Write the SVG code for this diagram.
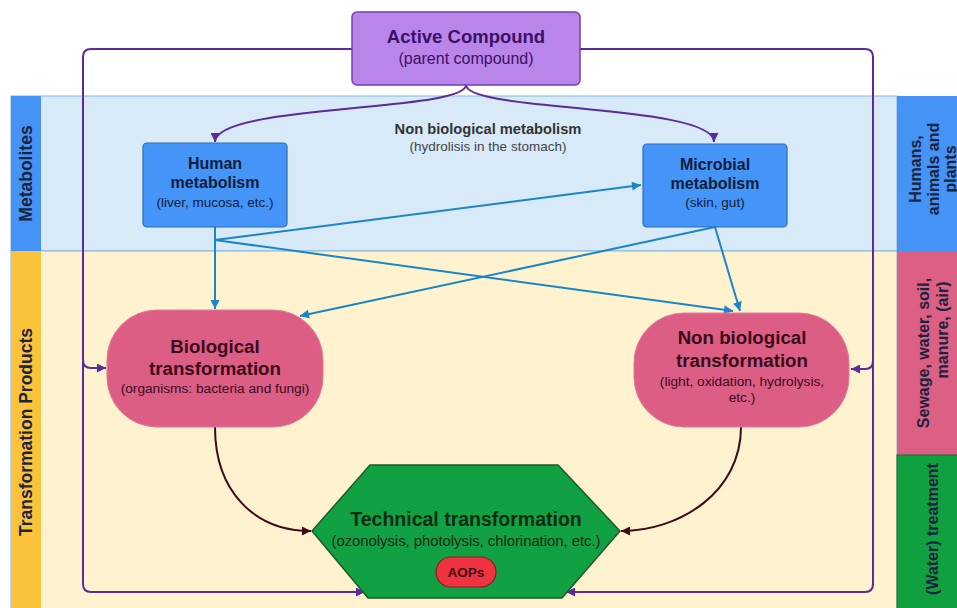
<svg xmlns="http://www.w3.org/2000/svg" width="957" height="608" viewBox="0 0 957 608">
<style>
text{font-family:"Liberation Sans",Arial,sans-serif;}
.b{font-weight:bold;}
.lane{font-weight:bold;font-size:17.5px;fill:#1a2340;}
.side{font-weight:bold;font-size:16px;fill:#1a2340;}
.mt{font-weight:bold;font-size:16px;fill:#0e1d3a;}
.ms{font-size:13.5px;fill:#0e1d3a;}
.pt{font-weight:bold;font-size:18.7px;fill:#3a0b1b;}
.ps{font-size:13.7px;fill:#3a0b1b;}
.pur{fill:none;stroke:#5b2a9b;stroke-width:2;}
.blu{fill:none;stroke:#1a86c8;stroke-width:2;}
.drk{fill:none;stroke:#3d0a1a;stroke-width:2;}
</style>
<defs>
<marker id="mp" viewBox="0 0 10 10" refX="10" refY="5" markerWidth="11" markerHeight="9" orient="auto" markerUnits="userSpaceOnUse"><path d="M0,0 L10,5 L0,10 z" fill="#5b2a9b"/></marker>
<marker id="mb" viewBox="0 0 10 10" refX="10" refY="5" markerWidth="12" markerHeight="9" orient="auto" markerUnits="userSpaceOnUse"><path d="M0,0 L10,5 L0,10 z" fill="#1a86c8"/></marker>
<marker id="md" viewBox="0 0 10 10" refX="10" refY="5" markerWidth="11" markerHeight="9" orient="auto" markerUnits="userSpaceOnUse"><path d="M0,0 L10,5 L0,10 z" fill="#3d0a1a"/></marker>
</defs>
<rect width="957" height="608" fill="#ffffff"/>
<g id="lanes">
<rect x="11" y="96" width="886" height="155" fill="#d8eaf8" stroke="#86b3e0" stroke-width="1"/>
<rect x="11" y="251" width="886" height="360" fill="#fff3cf" stroke="#86b3e0" stroke-width="1"/>
<rect x="11" y="96" width="30" height="155" fill="#4594f5"/>
<rect x="11" y="251" width="30" height="360" fill="#fbc33a"/>
<rect x="897" y="96" width="62" height="155" fill="#4594f5"/>
<rect x="897" y="251" width="62" height="204" fill="#dc5f84"/>
<rect x="897" y="455" width="62" height="156" fill="#10a040" stroke="#1c6a30" stroke-width="1"/>
<text class="lane" transform="translate(32,173.5) rotate(-90)" text-anchor="middle">Metabolites</text>
<text class="lane" transform="translate(32,432) rotate(-90)" text-anchor="middle">Transformation Products</text>
<text class="side" transform="translate(921,169) rotate(-90)" text-anchor="middle"><tspan x="0" y="0">Humans,</tspan><tspan x="0" y="18">animals and</tspan><tspan x="0" y="35">plants</tspan></text>
<text class="side" transform="translate(929,353) rotate(-90)" text-anchor="middle"><tspan x="0" y="0">Sewage, water, soil,</tspan><tspan x="23" y="19">manure, (air)</tspan></text>
<text class="side" transform="translate(938,529) rotate(-90)" text-anchor="middle">(Water) treatment</text>
</g>
<g id="connectors">
<path class="pur" d="M352,49 L91,49 Q83,49 83,57 L83,584 Q83,592 91,592 L365,592" marker-end="url(#mp)"/>
<path class="pur" d="M83,360 Q83,368 91,368 L106,368" marker-end="url(#mp)"/>
<path class="pur" d="M580,49 L865,49 Q873,49 873,57 L873,584 Q873,592 865,592 L566,592" marker-end="url(#mp)"/>
<path class="pur" d="M873,361 Q873,369 865,369 L851,369" marker-end="url(#mp)"/>
<path class="pur" d="M466,85 C466,112 215,104 215,142" marker-end="url(#mp)"/>
<path class="pur" d="M466,85 C466,112 714,104 714,142" marker-end="url(#mp)"/>
<path class="blu" d="M215,227 L215,309" marker-end="url(#mb)"/>
<path class="blu" d="M215,240 L641,185" marker-end="url(#mb)"/>
<path class="blu" d="M215,240 L733,311" marker-end="url(#mb)"/>
<path class="blu" d="M715,227 L300,316" marker-end="url(#mb)"/>
<path class="blu" d="M715,227 L740,311" marker-end="url(#mb)"/>
<path class="drk" d="M215,427 C215,492 255,531 311,531" marker-end="url(#md)"/>
<path class="drk" d="M741,427 C741,492 680,531 621,531" marker-end="url(#md)"/>
</g>
<g id="active">
<rect x="352" y="12" width="228" height="73" rx="5" fill="#b985eb" stroke="#7a3eb0" stroke-width="1.5"/>
<text x="466" y="43" text-anchor="middle" class="b" font-size="18.5" fill="#3d1065">Active Compound</text>
<text x="466" y="64" text-anchor="middle" font-size="16" fill="#3d1065">(parent compound)</text>
</g>
<g id="nonbio-metabolism">
<text x="488" y="134" text-anchor="middle" class="b" font-size="14.7" fill="#333333">Non biological metabolism</text>
<text x="488" y="151" text-anchor="middle" font-size="13.5" fill="#444444">(hydrolisis in the stomach)</text>
</g>
<g id="human">
<rect x="143" y="143" width="144" height="84" rx="4" fill="#4594f7" stroke="#2c6cb8" stroke-width="1.2"/>
<text x="215" y="169" text-anchor="middle" class="mt">Human</text>
<text x="215" y="188" text-anchor="middle" class="mt">metabolism</text>
<text x="215" y="207" text-anchor="middle" class="ms">(liver, mucosa, etc.)</text>
</g>
<g id="microbial">
<rect x="643" y="144" width="144" height="83" rx="4" fill="#4594f7" stroke="#2c6cb8" stroke-width="1.2"/>
<text x="715" y="170" text-anchor="middle" class="mt">Microbial</text>
<text x="715" y="189" text-anchor="middle" class="mt">metabolism</text>
<text x="715" y="207" text-anchor="middle" class="ms">(skin, gut)</text>
</g>
<g id="biological">
<rect x="107" y="310" width="216" height="117" rx="50" fill="#dc5e84" stroke="#e37b99" stroke-width="1"/>
<text x="215" y="353" text-anchor="middle" class="pt">Biological</text>
<text x="215" y="375" text-anchor="middle" class="pt">transformation</text>
<text x="215" y="393" text-anchor="middle" class="ps">(organisms: bacteria and fungi)</text>
</g>
<g id="nonbiological">
<rect x="634" y="313" width="215" height="114" rx="50" fill="#dc5e84" stroke="#e37b99" stroke-width="1"/>
<text x="742" y="344" text-anchor="middle" class="pt">Non biological</text>
<text x="742" y="367" text-anchor="middle" class="pt">transformation</text>
<text x="742" y="386" text-anchor="middle" class="ps">(light, oxidation, hydrolysis,</text>
<text x="742" y="402" text-anchor="middle" class="ps">etc.)</text>
</g>
<g id="technical">
<polygon points="312,531 370,465 558,465 620,531 562,598 368,598" fill="#12a142" stroke="#1c5a2a" stroke-width="1.5" stroke-linejoin="round"/>
<text x="466" y="526" text-anchor="middle" class="b" font-size="19.5" fill="#0b2a14">Technical transformation</text>
<text x="466" y="546" text-anchor="middle" font-size="14.8" fill="#0b2a14">(ozonolysis, photolysis, chlorination, etc.)</text>
</g>
<g id="aops">
<rect x="436" y="557" width="60" height="30" rx="15" fill="#ef3340" stroke="#8b1b24" stroke-width="1.2"/>
<text x="466" y="577" text-anchor="middle" class="b" font-size="13.5" fill="#3a0b12">AOPs</text>
</g>
</svg>
